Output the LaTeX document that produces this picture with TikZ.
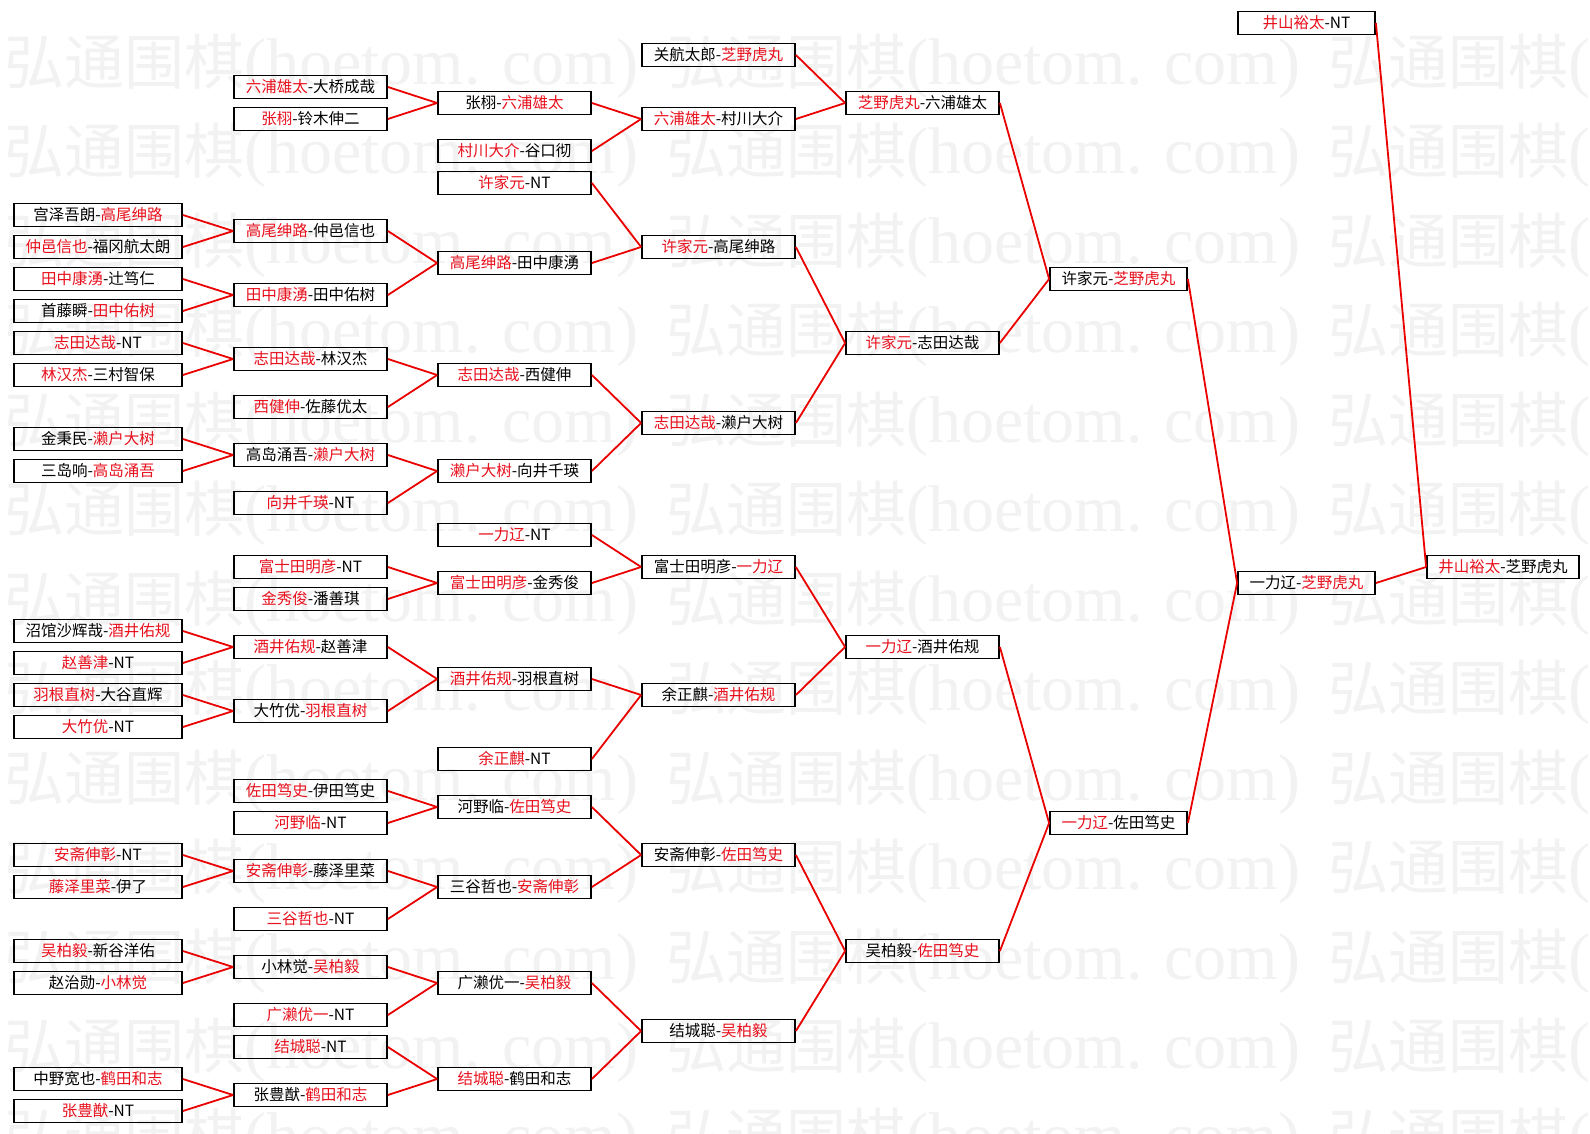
\documentclass[tikz,border=0pt]{standalone}
\usepackage{fontspec}
\setmainfont{Noto Sans CJK SC}
\newfontfamily\wmlat{Liberation Serif}
\definecolor{wred}{RGB}{232,16,28}
\definecolor{wline}{RGB}{235,0,0}
\definecolor{wmgray}{RGB}{242,242,242}
\newcommand\R[1]{\textcolor{wred}{#1}}
\tikzset{
  bx/.style={draw=black, line width=1.8pt, inner sep=0pt, minimum height=23pt,
    text height=13.6pt, text depth=1.9pt, font=\fontsize{15.5}{16}\selectfont},
  wa/.style={bx, minimum width=168pt},
  wb/.style={bx, minimum width=153pt},
  wc/.style={bx, minimum width=137pt},
  wd/.style={bx, minimum width=152pt},
  wire/.style={draw=wline, line width=1.8pt},
  wm/.style={text=wmgray, inner sep=0pt, anchor=west}
}
\begin{document}
\begin{tikzpicture}[x=1pt,y=-1pt]
\useasboundingbox (0,0) rectangle (1590,1133);
\fill[white] (0,0) rectangle (1590,1133);
% watermark
\begin{scope}
\clip (0,0) rectangle (1590,1133);
\foreach \r in {0,...,12}{
  \foreach \c in {0,1,2}{
    \node[wm] (wm-\r-\c) at ({4+662*\c},{66+89.5*\r}) {\fontsize{60}{60}\selectfont 弘通围棋{\wmlat\fontsize{66}{66}\selectfont (hoetom. com)}};
  }
}
\end{scope}
% column 1
\node[wa] (a1) at (98,215) {宫泽吾朗-\R{高尾绅路}};
\node[wa] (a2) at (98,247) {\R{仲邑信也}-福冈航太朗};
\node[wa] (a3) at (98,279) {\R{田中康湧}-辻笃仁};
\node[wa] (a4) at (98,311) {首藤瞬-\R{田中佑树}};
\node[wa] (a5) at (98,343) {\R{志田达哉}-NT};
\node[wa] (a6) at (98,375) {\R{林汉杰}-三村智保};
\node[wa] (a7) at (98,439) {金秉民-\R{濑户大树}};
\node[wa] (a8) at (98,471) {三岛响-\R{高岛涌吾}};
\node[wa] (a9) at (98,631) {沼馆沙辉哉-\R{酒井佑规}};
\node[wa] (a10) at (98,663) {\R{赵善津}-NT};
\node[wa] (a11) at (98,695) {\R{羽根直树}-大谷直辉};
\node[wa] (a12) at (98,727) {\R{大竹优}-NT};
\node[wa] (a13) at (98,855) {\R{安斋伸彰}-NT};
\node[wa] (a14) at (98,887) {\R{藤泽里菜}-伊了};
\node[wa] (a15) at (98,951) {\R{吴柏毅}-新谷洋佑};
\node[wa] (a16) at (98,983) {赵治勋-\R{小林觉}};
\node[wa] (a17) at (98,1079) {中野宽也-\R{鹤田和志}};
\node[wa] (a18) at (98,1111) {\R{张豊猷}-NT};
% column 2
\node[wb] (b1) at (310.5,87) {\R{六浦雄太}-大桥成哉};
\node[wb] (b2) at (310.5,119) {\R{张栩}-铃木伸二};
\node[wb] (b3) at (310.5,231) {\R{高尾绅路}-仲邑信也};
\node[wb] (b4) at (310.5,295) {\R{田中康湧}-田中佑树};
\node[wb] (b5) at (310.5,359) {\R{志田达哉}-林汉杰};
\node[wb] (b6) at (310.5,407) {\R{西健伸}-佐藤优太};
\node[wb] (b7) at (310.5,455) {高岛涌吾-\R{濑户大树}};
\node[wb] (b8) at (310.5,503) {\R{向井千瑛}-NT};
\node[wb] (b9) at (310.5,567) {\R{富士田明彦}-NT};
\node[wb] (b10) at (310.5,599) {\R{金秀俊}-潘善琪};
\node[wb] (b11) at (310.5,647) {\R{酒井佑规}-赵善津};
\node[wb] (b12) at (310.5,711) {大竹优-\R{羽根直树}};
\node[wb] (b13) at (310.5,791) {\R{佐田笃史}-伊田笃史};
\node[wb] (b14) at (310.5,823) {\R{河野临}-NT};
\node[wb] (b15) at (310.5,871) {\R{安斋伸彰}-藤泽里菜};
\node[wb] (b16) at (310.5,919) {\R{三谷哲也}-NT};
\node[wb] (b17) at (310.5,967) {小林觉-\R{吴柏毅}};
\node[wb] (b18) at (310.5,1015) {\R{广濑优一}-NT};
\node[wb] (b19) at (310.5,1047) {\R{结城聪}-NT};
\node[wb] (b20) at (310.5,1095) {张豊猷-\R{鹤田和志}};
% column 3
\node[wb] (c1) at (514.5,103) {张栩-\R{六浦雄太}};
\node[wb] (c2) at (514.5,151) {\R{村川大介}-谷口彻};
\node[wb] (c3) at (514.5,183) {\R{许家元}-NT};
\node[wb] (c4) at (514.5,263) {\R{高尾绅路}-田中康湧};
\node[wb] (c5) at (514.5,375) {\R{志田达哉}-西健伸};
\node[wb] (c6) at (514.5,471) {\R{濑户大树}-向井千瑛};
\node[wb] (c7) at (514.5,535) {\R{一力辽}-NT};
\node[wb] (c8) at (514.5,583) {\R{富士田明彦}-金秀俊};
\node[wb] (c9) at (514.5,679) {\R{酒井佑规}-羽根直树};
\node[wb] (c10) at (514.5,759) {\R{余正麒}-NT};
\node[wb] (c11) at (514.5,807) {河野临-\R{佐田笃史}};
\node[wb] (c12) at (514.5,887) {三谷哲也-\R{安斋伸彰}};
\node[wb] (c13) at (514.5,983) {广濑优一-\R{吴柏毅}};
\node[wb] (c14) at (514.5,1079) {\R{结城聪}-鹤田和志};
% column 4
\node[wb] (d1) at (718.5,55) {关航太郎-\R{芝野虎丸}};
\node[wb] (d2) at (718.5,119) {\R{六浦雄太}-村川大介};
\node[wb] (d3) at (718.5,247) {\R{许家元}-高尾绅路};
\node[wb] (d4) at (718.5,423) {\R{志田达哉}-濑户大树};
\node[wb] (d5) at (718.5,567) {富士田明彦-\R{一力辽}};
\node[wb] (d6) at (718.5,695) {余正麒-\R{酒井佑规}};
\node[wb] (d7) at (718.5,855) {安斋伸彰-\R{佐田笃史}};
\node[wb] (d8) at (718.5,1031) {结城聪-\R{吴柏毅}};
% column 5
\node[wb] (e1) at (922.5,103) {\R{芝野虎丸}-六浦雄太};
\node[wb] (e2) at (922.5,343) {\R{许家元}-志田达哉};
\node[wb] (e3) at (922.5,647) {\R{一力辽}-酒井佑规};
\node[wb] (e4) at (922.5,951) {吴柏毅-\R{佐田笃史}};
% column 6
\node[wc] (f1) at (1118.5,279) {许家元-\R{芝野虎丸}};
\node[wc] (f2) at (1118.5,823) {\R{一力辽}-佐田笃史};
% column 7
\node[wc] (g1) at (1306.5,23) {\R{井山裕太}-NT};
\node[wc] (g2) at (1306.5,583) {一力辽-\R{芝野虎丸}};
% column 8
\node[wd] (h1) at (1503,567) {\R{井山裕太}-芝野虎丸};
% connectors
\foreach \s/\t in {a1/b3,a2/b3,a3/b4,a4/b4,a5/b5,a6/b5,a7/b7,a8/b7,a9/b11,a10/b11,
  a11/b12,a12/b12,a13/b15,a14/b15,a15/b17,a16/b17,a17/b20,a18/b20,
  b1/c1,b2/c1,b3/c4,b4/c4,b5/c5,b6/c5,b7/c6,b8/c6,b9/c8,b10/c8,b11/c9,b12/c9,
  b13/c11,b14/c11,b15/c12,b16/c12,b17/c13,b18/c13,b19/c14,b20/c14,
  c1/d2,c2/d2,c3/d3,c4/d3,c5/d4,c6/d4,c7/d5,c8/d5,c9/d6,c10/d6,c11/d7,c12/d7,c13/d8,c14/d8,
  d1/e1,d2/e1,d3/e2,d4/e2,d5/e3,d6/e3,d7/e4,d8/e4,
  e1/f1,e2/f1,e3/f2,e4/f2,f1/g2,f2/g2,g1/h1,g2/h1}
  \draw[wire] (\s.east) -- (\t.west);
\end{tikzpicture}
\end{document}
